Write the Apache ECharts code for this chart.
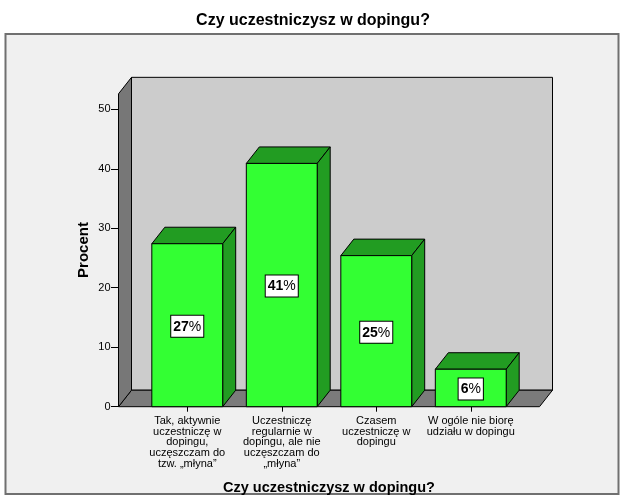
<!DOCTYPE html>
<html>
<head>
<meta charset="utf-8">
<script src="https://cdn.jsdelivr.net/npm/echarts@6/dist/echarts.min.js"></script>
<style>
  html, body { margin: 0; padding: 0; background: #fff; }
  #chart { width: 626px; height: 501px; }
</style>
</head>
<body>
<div id="chart"></div>
<script>
const categories = [
  'Tak, aktywnie\nuczestniczę w\ndopingu,\nuczęszczam do\ntzw. „młyna”',
  'Uczestniczę\nregularnie w\ndopingu, ale nie\nuczęszczam do\n„młyna”',
  'Czasem\nuczestniczę w\ndopingu',
  'W ogóle nie biorę\nudziału w dopingu'
]
const percents = [27.4, 40.9, 25.4, 6.3]
const yTicks = [0, 10, 20, 30, 40, 50]

const FONT = 'Liberation Sans, Arial, sans-serif'
const DEPTH = [13, -16.5]   // przesunięcie 3D
const PAD = 21.5            // podłoga wystaje poza siatkę
const BOX_TOP = 52.6        // górna krawędź ścian w jednostkach osi

const chart = echarts.init(document.getElementById('chart'))

// ściany i podłoga
function renderBox (params, api) {
  const cs = params.coordSys
  const [dx, dy] = DEPTH
  const x0 = cs.x - PAD
  const x1 = cs.x + cs.width + PAD
  const yb = api.coord([0, 0])[1]
  const yt = api.coord([0, BOX_TOP])[1]
  const line = { stroke: '#000', lineWidth: 1 }
  return {
    type: 'group',
    children: [
      { type: 'polygon', shape: { points: [[x0 + dx, yt + dy], [x1 + dx, yt + dy], [x1 + dx, yb + dy], [x0 + dx, yb + dy]] },
        style: Object.assign({ fill: '#cccccc' }, line) },
      { type: 'polygon', shape: { points: [[x0, yb], [x1, yb], [x1 + dx, yb + dy], [x0 + dx, yb + dy]] },
        style: Object.assign({ fill: '#7b7b7b' }, line) },
      { type: 'polygon', shape: { points: [[x0, yt], [x0 + dx, yt + dy], [x0 + dx, yb + dy], [x0, yb]] },
        style: Object.assign({ fill: '#777777' }, line) }
    ]
  }
}

function renderBar (params, api) {
  const [dx, dy] = DEPTH
  const idx = api.value(0)
  const val = api.value(1)
  const top = api.coord([idx, val])
  const base = api.coord([idx, 0])
  const w = api.size([1, 0])[0] * 0.75
  const xl = top[0] - w / 2
  const xr = top[0] + w / 2
  const yt = top[1]
  const yb = base[1]
  const line = { stroke: '#000', lineWidth: 1 }
  return {
    type: 'group',
    children: [
      { type: 'polygon', shape: { points: [[xl, yt], [xr, yt], [xr + dx, yt + dy], [xl + dx, yt + dy]] },
        style: Object.assign({ fill: '#229c22' }, line) },
      { type: 'polygon', shape: { points: [[xr, yt], [xr + dx, yt + dy], [xr + dx, yb + dy], [xr, yb]] },
        style: Object.assign({ fill: '#229c22' }, line) },
      { type: 'rect', shape: { x: xl, y: yt, width: w, height: yb - yt },
        style: Object.assign({ fill: '#33ff33' }, line) },
      { type: 'text', x: top[0], y: (yt + yb) / 2 + 1,
        style: {
          text: '{n|' + Math.round(val) + '}{p|%}',
          align: 'center', verticalAlign: 'middle',
          backgroundColor: '#fff', borderColor: '#000', borderWidth: 1,
          padding: [4, 2, 3, 2],
          rich: {
            n: { fontFamily: FONT, fontSize: 14, fontWeight: 'bold', fill: '#000' },
            p: { fontFamily: FONT, fontSize: 14, fill: '#000' }
          }
        } }
    ]
  }
}

const option = {
  backgroundColor: '#fff',
  animation: false,
  textStyle: { fontFamily: FONT },
  title: {
    text: 'Czy uczestniczysz w dopingu?',
    left: 'center',
    top: 8,
    textStyle: { fontFamily: FONT, fontSize: 16, fontWeight: 'bold', color: '#000' }
  },
  graphic: [{
    type: 'rect',
    z: -10,
    shape: { x: 5.5, y: 34, width: 613, height: 460 },
    style: { fill: '#f0f0f0', stroke: '#707070', lineWidth: 2 }
  }],
  grid: { left: 140, right: 108, top: 109.3, bottom: 94.3 },
  xAxis: {
    type: 'category',
    data: categories,
    name: 'Czy uczestniczysz w dopingu?',
    nameLocation: 'middle',
    nameGap: 74,
    nameTextStyle: { fontFamily: FONT, fontSize: 14.5, fontWeight: 'bold', color: '#000' },
    axisLine: { show: false },
    axisTick: { show: true, alignWithLabel: true, length: 5, lineStyle: { color: '#000' } },
    axisLabel: { interval: 0, fontSize: 11, lineHeight: 10.7, color: '#000', margin: 9 },
    splitLine: { show: false }
  },
  yAxis: {
    type: 'value',
    min: 0,
    max: 50,
    interval: 10,
    offset: 21.5,
    name: 'Procent',
    nameLocation: 'middle',
    nameGap: 27,
    nameMoveOverlap: false,
    nameTextStyle: { fontFamily: FONT, fontSize: 15, fontWeight: 'bold', color: '#000', padding: [0, 0, 0, 16] },
    axisLine: { show: false },
    axisTick: { show: true, inside: false, length: 7.5, lineStyle: { color: '#000' } },
    axisLabel: { fontSize: 11, color: '#000', margin: 8,
      formatter: v => yTicks.includes(v) ? String(v) : '' },
    splitLine: { show: false }
  },
  series: [
    {
      type: 'custom',
      z: 1,
      silent: true,
      renderItem: renderBox,
      data: [[0, 0]]
    },
    {
      type: 'custom',
      z: 3,
      renderItem: renderBar,
      data: percents.map((v, i) => [i, v])
    }
  ]
}

chart.setOption(option)
</script>
</body>
</html>
